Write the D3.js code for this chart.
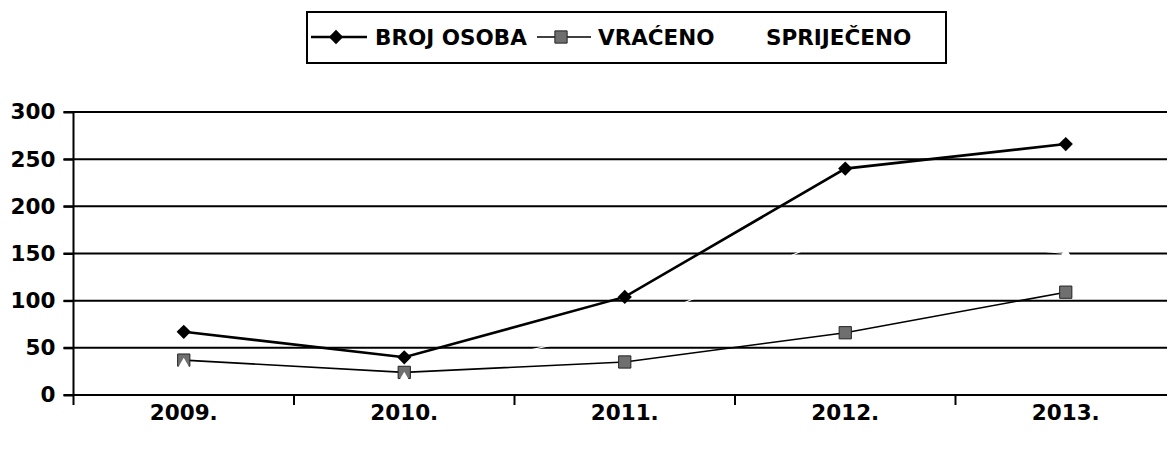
<!DOCTYPE html>
<html><head><meta charset="utf-8">
<script src="https://cdn.jsdelivr.net/npm/d3@7"></script>
<style>html,body{margin:0;padding:0;background:#fff;}</style>
</head><body>
<svg id="chart" width="1167" height="449"></svg>
<script>
const categories = ["2009.", "2010.", "2011.", "2012.", "2013."];
const brojOsoba = [67, 40, 104, 240, 266];
const vraceno = [37, 24, 35, 66, 109];
const sprijeceno = [33, 18, 70, 173, 150];
const yTicks = [0, 50, 100, 150, 200, 250, 300];
const seriesNames = ["BROJ OSOBA", "VRAĆENO", "SPRIJEČENO"];

(function () {
const svg = d3.select("#chart");
const font = "'DejaVu Sans', sans-serif";
const plotLeft = 73.5, bandW = 220.5, plotTop = 112, plotBottom = 395;

const x = d3.scaleBand().domain(categories).range([plotLeft, plotLeft + bandW * categories.length]).paddingInner(0).paddingOuter(0);
const y = d3.scaleLinear().domain([0, 300]).range([plotBottom, plotTop]);

// gridlines
svg.append("g").selectAll("line").data(yTicks.filter(d => d > 0)).join("line")
  .attr("x1", plotLeft - 10).attr("x2", 1167)
  .attr("y1", d => y(d)).attr("y2", d => y(d))
  .attr("stroke", "#000").attr("stroke-width", 2);

// y axis
const yAxis = svg.append("g").attr("transform", `translate(${plotLeft},0)`)
  .call(d3.axisLeft(y).tickValues(yTicks).tickSize(10).tickPadding(8));
yAxis.select(".domain").attr("stroke-width", 2).attr("d", `M0,${plotTop}V${plotBottom + 10}`);
yAxis.selectAll(".tick line").attr("stroke-width", 2);
yAxis.selectAll("text").attr("font-family", font).attr("font-weight", "bold").attr("font-size", 21.5).attr("fill", "#000");

// x axis
const xAxis = svg.append("g").attr("transform", `translate(0,${plotBottom})`)
  .call(d3.axisBottom(x).tickSize(0).tickPadding(10));
xAxis.select(".domain").attr("stroke-width", 2).attr("d", `M${plotLeft - 10},0H1167`);
xAxis.selectAll("text").attr("font-family", font).attr("font-weight", "bold").attr("font-size", 21.5).attr("fill", "#000");
svg.append("g").selectAll("line").data(categories.slice(1)).join("line")
  .attr("x1", d => x(d)).attr("x2", d => x(d))
  .attr("y1", plotBottom).attr("y2", plotBottom + 10)
  .attr("stroke", "#000").attr("stroke-width", 2);

const cx = d => x(d) + x.bandwidth() / 2;
const line = vals => d3.line().x((d, i) => cx(categories[i])).y(d => y(d))(vals);

// white series (SPRIJEČENO)
svg.append("path").attr("d", line(sprijeceno)).attr("fill", "none").attr("stroke", "#fff").attr("stroke-width", 1.2);
// VRAĆENO
svg.append("path").attr("d", line(vraceno)).attr("fill", "none").attr("stroke", "#000").attr("stroke-width", 1.6);
// BROJ OSOBA
svg.append("path").attr("d", line(brojOsoba)).attr("fill", "none").attr("stroke", "#000").attr("stroke-width", 2.6);

const diamond = d3.symbol().type(d3.symbolDiamond2).size(130);
const square = d3.symbol().type(d3.symbolSquare).size(150);
const tri = d3.symbol().type(d3.symbolTriangle).size(50);

svg.append("g").selectAll("path").data(vraceno).join("path")
  .attr("transform", (d, i) => `translate(${cx(categories[i])},${y(d)})`)
  .attr("d", square).attr("fill", "#6f6f6f").attr("stroke", "#222").attr("stroke-width", 1);
svg.append("g").selectAll("path").data(sprijeceno).join("path")
  .attr("transform", (d, i) => `translate(${cx(categories[i])},${y(d)})`)
  .attr("d", tri).attr("fill", "#fff");
svg.append("g").selectAll("path").data(brojOsoba).join("path")
  .attr("transform", (d, i) => `translate(${cx(categories[i])},${y(d)})`)
  .attr("d", diamond).attr("fill", "#000");

// legend
const lg = svg.append("g");
lg.append("rect").attr("x", 307).attr("y", 12).attr("width", 639).attr("height", 51)
  .attr("fill", "#fff").attr("stroke", "#000").attr("stroke-width", 2);
const legendItems = [
  {name: seriesNames[0], x1: 311, x2: 367, tx: 375, stroke: "#000", sw: 2.6, mark: diamond, fill: "#000", mstroke: "none"},
  {name: seriesNames[1], x1: 537, x2: 591, tx: 598, stroke: "#000", sw: 1.6, mark: square, fill: "#6f6f6f", mstroke: "#222"},
  {name: seriesNames[2], x1: 720, x2: 760, tx: 766, stroke: "#fff", sw: 1.2, mark: tri, fill: "#fff", mstroke: "none"}
];
legendItems.forEach(it => {
  lg.append("line").attr("x1", it.x1).attr("x2", it.x2).attr("y1", 37).attr("y2", 37)
    .attr("stroke", it.stroke).attr("stroke-width", it.sw);
  lg.append("path").attr("d", it.mark).attr("transform", `translate(${(it.x1 + it.x2) / 2 - 3},37)`)
    .attr("fill", it.fill).attr("stroke", it.mstroke);
  lg.append("text").attr("x", it.tx).attr("y", 45).text(it.name)
    .attr("font-family", font).attr("font-weight", "bold").attr("font-size", 21.5).attr("fill", "#000");
});
})();
</script>
</body></html>
